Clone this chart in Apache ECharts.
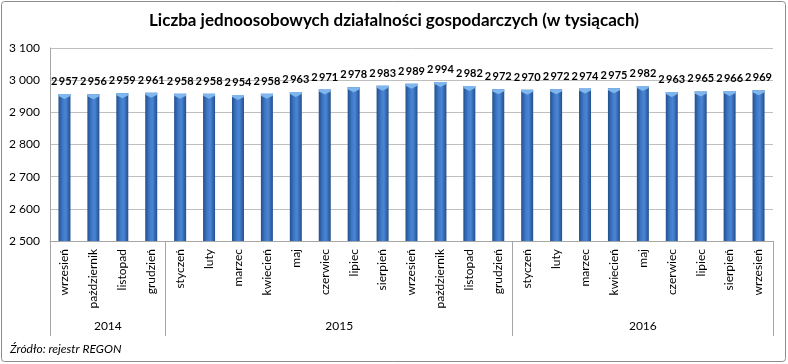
<!DOCTYPE html>
<html><head><meta charset="utf-8">
<script src="https://cdn.jsdelivr.net/npm/echarts@6/dist/echarts.min.js"></script>
<style>html,body{margin:0;padding:0;background:#fff}#c{width:788px;height:364px}</style>
</head><body><div id="c"></div>
<script>
const months = ['wrzesień','październik','listopad','grudzień','styczeń','luty','marzec','kwiecień','maj','czerwiec','lipiec','sierpień','wrzesień','październik','listopad','grudzień','styczeń','luty','marzec','kwiecień','maj','czerwiec','lipiec','sierpień','wrzesień'];
const values = [2957,2956,2959,2961,2958,2958,2954,2958,2963,2971,2978,2983,2989,2994,2982,2972,2970,2972,2974,2975,2982,2963,2965,2966,2969];
const years = ['2014','2015','2016'];
const yearStarts = [0,4,16,25];
const yTicks = {min:2500, max:3100, interval:100};
const title = 'Liczba jednoosobowych działalności gospodarczych (w tysiącach)';
const source = 'Źródło: rejestr REGON';

const fmt = v => String(v).replace(/\B(?=(\d{3})+(?!\d))/g,'\u2009');
const yearCenters = years.map((y,i)=>(yearStarts[i]+yearStarts[i+1])/2);
const FONT = 'Lato';

const chart = echarts.init(document.getElementById('c'), null, {renderer:'canvas'});
chart.setOption({
  animation:false,
  textStyle:{fontFamily:FONT},
  title:{text:title,left:'center',top:7,textStyle:{fontFamily:FONT,fontSize:17,fontWeight:'bold',color:'#000'}},
  grid:{left:50,right:15,top:48,bottom:123},
  xAxis:[{
    type:'category',data:months,
    axisLine:{show:true,lineStyle:{color:'#a6a6a6'}},
    axisTick:{show:true,length:95,interval:(i)=>yearStarts.indexOf(i)>=0,lineStyle:{color:'#a6a6a6'}},
    axisLabel:{interval:0,rotate:90,fontSize:12,color:'#000',margin:8,fontFamily:FONT},
    splitLine:{show:false}
  },{
    type:'value',min:0,max:25,position:'bottom',offset:71,
    axisLine:{show:false},axisTick:{show:false},splitLine:{show:false},
    axisLabel:{customValues:yearCenters,fontSize:12,color:'#000',fontFamily:FONT,
      formatter:(v)=>{const i=yearCenters.indexOf(v);return i>=0?years[i]:'';}}
  }],
  yAxis:{type:'value',min:yTicks.min,max:yTicks.max,interval:yTicks.interval,
    axisLine:{show:true,lineStyle:{color:'#a6a6a6'}},axisTick:{show:false},
    axisLabel:{formatter:v=>String(v).replace(/\B(?=(\d{3})+(?!\d))/g,' '),fontSize:12,color:'#000',margin:10,fontFamily:FONT},
    splitLine:{lineStyle:{color:'#bfbfbf'}}
  },
  series:[{
    type:'bar',data:values,barWidth:12,xAxisIndex:0,
    itemStyle:{color:new echarts.graphic.LinearGradient(0,0,1,0,[
      {offset:0,color:'#22508f'},{offset:0.35,color:'#3f78c6'},{offset:0.6,color:'#4a86d6'},{offset:1,color:'#234f8d'}])},
    label:{show:true,position:'top',distance:7,formatter:p=>fmt(p.value),fontSize:11,fontWeight:'bold',color:'#000',fontFamily:FONT}
  },{
    type:'pictorialBar',data:values,xAxisIndex:0,symbol:'path://M0,0 L12,0 L12,2 L6,5 L0,2 Z',
    symbolSize:[12,5],symbolPosition:'end',z:3,
    itemStyle:{color:'#7fb6ee'},silent:true
  }],
  graphic:[
    {type:'rect',shape:{x:1.5,y:1.5,width:784,height:360,r:3},style:{fill:'none',stroke:'#8c8c8c',lineWidth:1}},
    {type:'text',left:10,top:343,style:{text:source,font:'italic 12px '+FONT,fill:'#000'}}
  ]
});
</script></body></html>
